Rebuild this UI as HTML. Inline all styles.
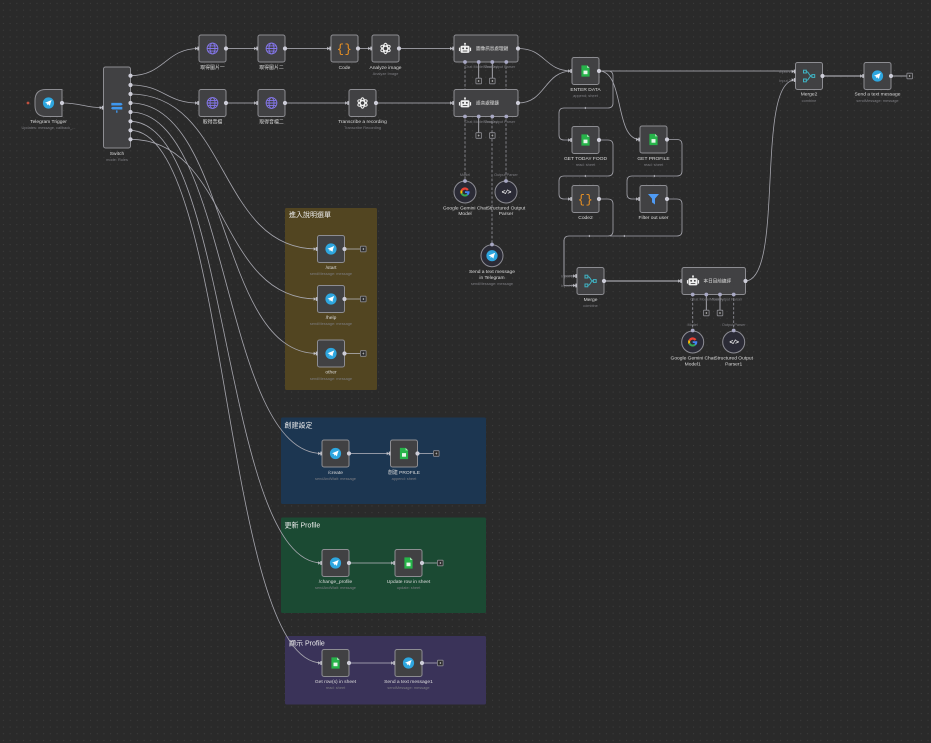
<!DOCTYPE html>
<html><head><meta charset="utf-8"><style>
html,body{margin:0;padding:0;background:#2a2a2a;width:931px;height:743px;overflow:hidden}
svg{display:block;filter:blur(.3px)}
text{font-family:"Liberation Sans","Noto Sans CJK TC",sans-serif}
.n{font-size:4.9px;fill:#dcdcdc;text-anchor:middle}
.s{font-size:3.9px;fill:#7d7d82;text-anchor:middle}
.t{font-size:7px;fill:#ececec}
.a{font-size:4.6px;fill:#e0e0e0}
.p{font-size:3.8px;fill:#7d7d82;text-anchor:middle}
.box{fill:#414143;stroke:#8d8d92;stroke-width:1}
.l{fill:none;stroke:#b8b8c0;stroke-width:.85}
.h{fill:none;stroke:#a4a4ab;stroke-width:1.3}
.d{fill:none;stroke:#96969e;stroke-width:.8;stroke-dasharray:2.6 1.8}
.c{fill:none;stroke:#a6a6ae;stroke-width:.8}
</style></head><body>
<svg width="931" height="743" viewBox="0 0 931 743" xmlns="http://www.w3.org/2000/svg">
<defs>
<pattern id="dots" width="6.7" height="6.7" patternUnits="userSpaceOnUse"><rect width="6.7" height="6.7" fill="#2a2a2a"/><rect x="3" y="3" width=".9" height=".9" fill="#434343"/></pattern>
<g id="tg"><circle r="5.6" fill="#2ea6df"/><path d="M-3.4-.2 3.2-3 2.1-.1 1.4 2.9-.3 1.2-1.3 2.4-1.4.6z" fill="#fff"/></g>
<g id="globe" fill="none" stroke="#8476ea" stroke-width=".9"><circle r="5.4"/><ellipse rx="2.5" ry="5.4"/><path d="M-5.4 0H5.4M-4.6-2.6H4.6M-4.6 2.6H4.6"/></g>
<g id="sheet"><path d="M-4.1-5.6H1.6L4.1-3.1V5.6H-4.1z" fill="#27b44a"/><path d="M1.6-5.6 4.1-3.1H1.6z" fill="#a8e6b8"/><rect x="-2" y="-.4" width="4" height="3.6" fill="#e6f6ea"/></g>
<g id="code"><text x="0" y="3.9" text-anchor="middle" font-size="12" fill="#ee9322" style="font-family:'Liberation Mono',monospace" letter-spacing=".6">{}</text></g>
<g id="oai" fill="none" stroke="#f0f0f0" stroke-width="1.05"><ellipse rx="2.2" ry="5.2"/><ellipse rx="2.2" ry="5.2" transform="rotate(60)"/><ellipse rx="2.2" ry="5.2" transform="rotate(120)"/></g>
<g id="bot" transform="scale(1.15)"><rect x="-3.9" y="-2.8" width="7.8" height="6.2" rx="1.2" fill="#f0f0f0"/><rect x="-.4" y="-4.6" width=".8" height="1.8" fill="#f0f0f0"/><circle cy="-4.6" r=".8" fill="#f0f0f0"/><rect x="-5.3" y="-1.2" width="1" height="3" fill="#f0f0f0"/><rect x="4.3" y="-1.2" width="1" height="3" fill="#f0f0f0"/><circle cx="-1.6" cy="-.6" r=".8" fill="#414143"/><circle cx="1.6" cy="-.6" r=".8" fill="#414143"/><rect x="-2" y="1.4" width="4" height=".7" fill="#414143"/></g>
<g id="merge" fill="none" stroke="#3fb3c4" stroke-width="1"><rect x="-5.5" y="-5.8" width="2.8" height="2.8"/><rect x="-5.5" y="3" width="2.8" height="2.8"/><rect x="2.9" y="-1.4" width="2.8" height="2.8"/><path d="M-2.7-4.4C.5-4.4-.8 0 2.9 0M-2.7 4.4C.5 4.4-.8 0 2.9 0"/></g>
<g id="filter"><path d="M-5.5-5H5.5L1.5-.4V5.5L-1.5 3.4V-.4z" fill="#4f9bf5"/></g>
<g id="switch" fill="#3f97ee" transform="scale(1.1)"><path d="M-5-4.2H4L5.4-3 4-1.8H-5z"/><path d="M5-.6H-4L-5.4.6-4 1.8H5z"/><rect x="-.6" y="2.6" width="1.2" height="2.2"/></g>
<g id="g"><path d="M3.7-2.7A4.6 4.6 0 0 0-4.1-2.1L-2.5-.8A2.6 2.6 0 0 1 2-1.2z" fill="#ea4335"/><path d="M-4.1-2.1A4.6 4.6 0 0 0-4.1 2.1L-2.5.8A2.6 2.6 0 0 1-2.5-.8z" fill="#fbbc05"/><path d="M-4.1 2.1A4.6 4.6 0 0 0 3 3.4L1.5 2A2.6 2.6 0 0 1-2.5.8z" fill="#34a853"/><path d="M3 3.4A4.6 4.6 0 0 0 4.5-.8H0V1H2.4A2.6 2.6 0 0 1 1.5 2z" fill="#4285f4"/></g>
<g id="parser"><text x="0" y="1.8" text-anchor="middle" font-size="6.5" fill="#f2f2f2" font-weight="bold" style="font-family:'Liberation Mono',monospace" letter-spacing="-1">&lt;/&gt;</text></g>
<g id="in"><rect x="-1.7" y="-1.9" width="1.6" height="3.8" fill="#c2c2ca"/><path d="M-3.8-1.7-1.5 0-3.8 1.7z" fill="#c2c2ca"/></g>
<circle id="o" r="2.1" fill="#cdcdd8"/>
<circle id="sp" r="1.9" fill="#a8a8c4"/>
<g id="plus"><rect x="-2.8" y="-2.8" width="5.6" height="5.6" rx=".6" fill="#2d2d2d" stroke="#8c8c92" stroke-width=".8"/><path d="M-1 0H1M0-1V1" stroke="#c8c8c8" stroke-width=".6"/></g>
</defs>
<rect width="931" height="743" fill="url(#dots)"/>

<!-- stickies -->
<rect x="285" y="208" width="92" height="182" rx="1.5" fill="#524521"/>
<rect x="281" y="417.500" width="205" height="86.500" rx="1.5" fill="#1c3651"/>
<rect x="281" y="517.500" width="205" height="95.500" rx="1.5" fill="#1b4a33"/>
<rect x="285" y="636" width="201" height="68.500" rx="1.5" fill="#3a3359"/>
<text class="t" x="289" y="217">進入說明選單</text>
<text class="t" x="284.500" y="427.500">創建設定</text>
<text class="t" x="284.500" y="527.500">更新 Profile</text>
<text class="t" x="289" y="645.500">顯示 Profile</text>

<!-- main connectors -->
<path class="c" d="M62 103C82 103 84 107.700 103 107.700"/>
<path class="c" d="M130 75.700C165 75.700 165 48.500 199 48.500"/>
<path class="c" d="M130 85C165 85 165 103 199 103"/>
<path class="c" d="M130 94C230 94 217 249 317 249"/>
<path class="c" d="M130 139.300C230 139.300 217 299 317 299"/>
<path class="c" d="M130 103C230 103 217 353.500 317 353.500"/>
<path class="c" d="M130 112C230 112 222 453.500 322 453.500"/>
<path class="c" d="M130 121.300C230 121.300 222 563 322 563"/>
<path class="c" d="M130 130.300C230 130.300 222 663 322 663"/>

<path class="l" d="M226 48.500H258M285 48.500H331M358 48.500H372M399 48.500H454"/>
<path class="l" d="M226 103H258M285 103H349M376 103H454"/>
<path class="c" d="M518 48.500C546 48.500 544 71 572 71M518 103C546 103 544 71 572 71"/>
<path class="l" d="M599 71H795"/>
<path class="c" d="M599 71C625 71 614 139.500 640 139.500"/>
<path class="c" d="M599 71H608Q613 71 613 76V103Q613 108 608 108H564Q559 108 559 113V135Q559 140 564 140H572"/>
<path class="c" d="M599 140H608Q613 140 613 145V171Q613 176 608 176H564Q559 176 559 181V194Q559 199 564 199H572"/>
<path class="c" d="M599 199H608Q613 199 613 204V231Q613 236 608 236H569Q564 236 564 241V276H577"/>
<path class="c" d="M564 285.500V240"/><path class="c" d="M564 285.500H577"/>
<path class="c" d="M667 199H677Q682 199 682 204V231Q682 236 677 236H610"/>
<path class="c" d="M667 139.500H677Q682 139.500 682 144.500V171Q682 176 677 176H632Q627 176 627 181V194Q627 199 632 199H640"/>
<path class="c" d="M745 281C785 281 755 80 795 80"/>
<path class="h" d="M604 281H682M822 76H864"/>
<path class="l" d="M891 76H907"/>
<path class="l" d="M344 249H360M344 299H360M344 353.500H360"/>
<path class="l" d="M349 453.500H390M417 453.500H433"/>
<path class="l" d="M349 563H395M422 563H437"/>
<path class="l" d="M349 663H395M422 663H437"/>

<!-- dashed -->
<path class="d" d="M465 62V181M506 62V181M492 117V244M692.700 294V330.500M733.700 294V330.500"/>
<path class="l" d="M478.700 62V78M492.300 62V78M478.700 117V133M706.300 294V310M720 294V310"/>

<!-- mid arrows -->
<g fill="#b4b4bc"><path d="M586 106.800 584 108 586 109.200zM586 174.800 584 176 586 177.200zM655 174.800 653 176 655 177.200zM590 234.800 588 236 590 237.200zM625 234.800 623 236 625 237.200z"/></g>

<!-- nodes -->
<path class="box" d="M46 89.500H62V116.500H46Q35 116.500 35 105.500V100.500Q35 89.500 46 89.500Z"/>
<rect class="box" x="103.500" y="67" width="27" height="81" rx="2"/>
<rect class="box" x="199" y="35" width="27" height="27" rx="2"/>
<rect class="box" x="258" y="35" width="27" height="27" rx="2"/>
<rect class="box" x="199" y="89.500" width="27" height="27" rx="2"/>
<rect class="box" x="258" y="89.500" width="27" height="27" rx="2"/>
<rect class="box" x="331" y="35" width="27" height="27" rx="2"/>
<rect class="box" x="372" y="35" width="27" height="27" rx="2"/>
<rect class="box" x="349" y="89.500" width="27" height="27" rx="2"/>
<rect class="box" x="454" y="35" width="64" height="27" rx="2"/>
<rect class="box" x="454" y="89.500" width="64" height="27" rx="2"/>
<rect class="box" x="572" y="57.500" width="27" height="27" rx="2"/>
<rect class="box" x="572" y="126.500" width="27" height="27" rx="2"/>
<rect class="box" x="572" y="185.500" width="27" height="27" rx="2"/>
<rect class="box" x="640" y="126" width="27" height="27" rx="2"/>
<rect class="box" x="640" y="185.500" width="27" height="27" rx="2"/>
<rect class="box" x="795.500" y="62.500" width="27" height="27" rx="2"/>
<rect class="box" x="864" y="62.500" width="27" height="27" rx="2"/>
<rect class="box" x="577" y="267.500" width="27" height="27" rx="2"/>
<rect class="box" x="682" y="267.500" width="63.500" height="27" rx="2"/>
<rect class="box" x="317.500" y="235.500" width="27" height="27" rx="2"/>
<rect class="box" x="317.500" y="285.500" width="27" height="27" rx="2"/>
<rect class="box" x="317.500" y="340" width="27" height="27" rx="2"/>
<rect class="box" x="322" y="440" width="27" height="27" rx="2"/>
<rect class="box" x="390.500" y="440" width="27" height="27" rx="2"/>
<rect class="box" x="322" y="549.500" width="27" height="27" rx="2"/>
<rect class="box" x="395" y="549.500" width="27" height="27" rx="2"/>
<rect class="box" x="322" y="649.500" width="27" height="27" rx="2"/>
<rect class="box" x="395" y="649.500" width="27" height="27" rx="2"/>

<!-- round sub nodes -->
<g fill="#2b2b36" stroke="#8d8d94" stroke-width="1">
<circle cx="465" cy="192" r="11"/><circle cx="506" cy="192" r="11"/><circle cx="492" cy="255.700" r="11"/><circle cx="692.700" cy="342" r="11"/><circle cx="733.700" cy="342" r="11"/>
</g>

<!-- icons -->
<use href="#tg" x="48.500" y="103"/>
<use href="#switch" x="116.800" y="107.500"/>
<use href="#globe" x="212.500" y="48.500"/><use href="#globe" x="271.500" y="48.500"/>
<use href="#globe" x="212.500" y="103"/><use href="#globe" x="271.500" y="103"/>
<use href="#code" x="344.500" y="48.500"/>
<use href="#oai" x="385.500" y="48.500"/><use href="#oai" x="362.500" y="103"/>
<use href="#bot" x="465" y="49"/><use href="#bot" x="465" y="103.500"/><use href="#bot" x="693" y="281.500"/>
<use href="#sheet" x="585.500" y="71"/><use href="#sheet" x="585.500" y="140"/>
<use href="#code" x="585.500" y="199"/>
<use href="#sheet" x="653.500" y="139.500"/>
<use href="#filter" x="653.500" y="199"/>
<use href="#merge" x="809" y="76"/><use href="#tg" x="877.500" y="76"/>
<use href="#merge" x="590.500" y="281"/>
<use href="#g" x="465" y="192"/><use href="#parser" x="506" y="192"/>
<use href="#tg" x="492" y="255.700"/>
<use href="#g" x="692.700" y="342"/><use href="#parser" x="733.700" y="342"/>
<use href="#tg" x="331" y="249"/><use href="#tg" x="331" y="299"/><use href="#tg" x="331" y="353.500"/>
<use href="#tg" x="335.500" y="453.500"/><use href="#sheet" x="404" y="453.500"/>
<use href="#tg" x="335.500" y="563"/><use href="#sheet" x="408.500" y="563"/>
<use href="#sheet" x="335.500" y="663"/><use href="#tg" x="408.500" y="663"/>

<!-- output dots -->
<use href="#o" x="62" y="103"/>
<use href="#o" x="130.500" y="75.700"/><use href="#o" x="130.500" y="85"/><use href="#o" x="130.500" y="94"/><use href="#o" x="130.500" y="103"/><use href="#o" x="130.500" y="112"/><use href="#o" x="130.500" y="121.300"/><use href="#o" x="130.500" y="130.300"/><use href="#o" x="130.500" y="139.300"/>
<use href="#o" x="226" y="48.500"/><use href="#o" x="285" y="48.500"/><use href="#o" x="226" y="103"/><use href="#o" x="285" y="103"/>
<use href="#o" x="358" y="48.500"/><use href="#o" x="399" y="48.500"/><use href="#o" x="376" y="103"/>
<use href="#o" x="518" y="48.500"/><use href="#o" x="518" y="103"/>
<use href="#o" x="599" y="71"/><use href="#o" x="599" y="140"/><use href="#o" x="599" y="199"/>
<use href="#o" x="667" y="139.500"/><use href="#o" x="667" y="199"/>
<use href="#o" x="822.500" y="76"/><use href="#o" x="891" y="76"/>
<use href="#o" x="604" y="281"/><use href="#o" x="745.500" y="281"/>
<use href="#o" x="344.500" y="249"/><use href="#o" x="344.500" y="299"/><use href="#o" x="344.500" y="353.500"/>
<use href="#o" x="349" y="453.500"/><use href="#o" x="417.500" y="453.500"/>
<use href="#o" x="349" y="563"/><use href="#o" x="422" y="563"/>
<use href="#o" x="349" y="663"/><use href="#o" x="422" y="663"/>

<!-- input markers -->
<use href="#in" x="103.500" y="107.700"/>
<use href="#in" x="199" y="48.500"/><use href="#in" x="258" y="48.500"/><use href="#in" x="331" y="48.500"/><use href="#in" x="372" y="48.500"/><use href="#in" x="454" y="48.500"/>
<use href="#in" x="199" y="103"/><use href="#in" x="258" y="103"/><use href="#in" x="349" y="103"/><use href="#in" x="454" y="103"/>
<use href="#in" x="572" y="71"/><use href="#in" x="572" y="140"/><use href="#in" x="572" y="199"/>
<use href="#in" x="640" y="139.500"/><use href="#in" x="640" y="199"/>
<use href="#in" x="795.500" y="71.500"/><use href="#in" x="795.500" y="80"/><use href="#in" x="864" y="76"/>
<use href="#in" x="577" y="276"/><use href="#in" x="577" y="285.500"/><use href="#in" x="682" y="281"/>
<use href="#in" x="317.500" y="249"/><use href="#in" x="317.500" y="299"/><use href="#in" x="317.500" y="353.500"/>
<use href="#in" x="322" y="453.500"/><use href="#in" x="390.500" y="453.500"/>
<use href="#in" x="322" y="563"/><use href="#in" x="395" y="563"/>
<use href="#in" x="322" y="663"/><use href="#in" x="395" y="663"/>

<!-- sub ports -->
<use href="#sp" x="465" y="62"/><use href="#sp" x="478.700" y="62"/><use href="#sp" x="492.300" y="62"/><use href="#sp" x="506.300" y="62"/>
<use href="#sp" x="465" y="116.500"/><use href="#sp" x="478.700" y="116.500"/><use href="#sp" x="492.300" y="116.500"/><use href="#sp" x="506.300" y="116.500"/>
<use href="#sp" x="692.700" y="294.500"/><use href="#sp" x="706.300" y="294.500"/><use href="#sp" x="720" y="294.500"/><use href="#sp" x="733.700" y="294.500"/>
<use href="#sp" x="465" y="181"/><use href="#sp" x="506" y="181"/><use href="#sp" x="492" y="244.500"/><use href="#sp" x="692.700" y="330.500"/><use href="#sp" x="733.700" y="330.500"/>

<!-- plus -->
<use href="#plus" x="478.700" y="81"/><use href="#plus" x="492.300" y="81"/>
<use href="#plus" x="478.700" y="135.500"/><use href="#plus" x="492.300" y="135.500"/>
<use href="#plus" x="706.300" y="313"/><use href="#plus" x="720" y="313"/>
<use href="#plus" x="909.700" y="76"/>
<use href="#plus" x="363.300" y="249"/><use href="#plus" x="363.300" y="299"/><use href="#plus" x="363.300" y="353.500"/>
<use href="#plus" x="436.300" y="453.500"/><use href="#plus" x="440.300" y="563"/><use href="#plus" x="440.300" y="663"/>

<!-- labels -->
<text class="n" x="48.500" y="122.800">Telegram Trigger</text><text class="s" x="48.500" y="129">Updates: message, callback_...</text>
<text class="n" x="117" y="155">Switch</text><text class="s" x="117" y="161">mode: Rules</text>
<text class="n" x="212.500" y="69">取得圖片一</text><text class="n" x="271.500" y="69">取得圖片二</text>
<text class="n" x="212.500" y="123.500">取得音檔</text><text class="n" x="271.500" y="123.500">取得音檔二</text>
<text class="n" x="344.500" y="69">Code</text>
<text class="n" x="385.500" y="69">Analyze image</text><text class="s" x="385.500" y="75">Analyze Image</text>
<text class="n" x="362.500" y="122.800">Transcribe a recording</text><text class="s" x="362.500" y="129">Transcribe Recording</text>
<text class="a" x="476" y="50.200">圖像訊息處理鏈</text>
<text class="a" x="476" y="104.700">語音處理鏈</text>
<text class="a" x="703.500" y="282.700">本日目前總評</text>
<text class="p" x="481" y="68">Chat ModelMemory</text><text class="p" x="500" y="68">ToolOutput Parser</text>
<text class="p" x="481" y="123">Chat ModelMemory</text><text class="p" x="500" y="123">ToolOutput Parser</text>
<text class="p" x="707" y="300.500">Chat ModelMemory</text><text class="p" x="727" y="300.500">ToolOutput Parser</text>
<text class="p" x="465" y="176">Model</text><text class="p" x="506" y="176">Output Parser</text>
<text class="p" x="692.700" y="326">Model</text><text class="p" x="733.700" y="326">Output Parser</text>
<text class="n" x="465" y="209.700">Google Gemini Chat</text><text class="n" x="465" y="215">Model</text>
<text class="n" x="506" y="209.700">Structured Output</text><text class="n" x="506" y="215">Parser</text>
<text class="n" x="492" y="273">Send a text message</text><text class="n" x="492" y="279">in Telegram</text><text class="s" x="492" y="285">sendMessage: message</text>
<text class="n" x="692.700" y="359.700">Google Gemini Chat</text><text class="n" x="692.700" y="365.500">Model1</text>
<text class="n" x="733.700" y="359.700">Structured Output</text><text class="n" x="733.700" y="365.500">Parser1</text>
<text class="n" x="585.500" y="91">ENTER DATA</text><text class="s" x="585.500" y="97.200">append: sheet</text>
<text class="n" x="585.500" y="160">GET TODAY FOOD</text><text class="s" x="585.500" y="166">read: sheet</text>
<text class="n" x="585.500" y="219">Code2</text>
<text class="n" x="653.500" y="160">GET PROFILE</text><text class="s" x="653.500" y="166">read: sheet</text>
<text class="n" x="653.500" y="219">Filter out user</text>
<text class="n" x="809" y="95.500">Merge2</text><text class="s" x="809" y="102">combine</text>
<text class="n" x="877.500" y="95.500">Send a text message</text><text class="s" x="877.500" y="102">sendMessage: message</text>
<text class="n" x="590.500" y="301">Merge</text><text class="s" x="590.500" y="307">combine</text>
<text class="p" x="785" y="72.800">Input 1</text><text class="p" x="785" y="82">Input 2</text>
<text class="p" x="567" y="277.300">Input 1</text><text class="p" x="567" y="287">Input 2</text>
<text class="n" x="331" y="269">/start</text><text class="s" x="331" y="275">sendMessage: message</text>
<text class="n" x="331" y="319">/help</text><text class="s" x="331" y="325">sendMessage: message</text>
<text class="n" x="331" y="373.700">other</text><text class="s" x="331" y="380">sendMessage: message</text>
<text class="n" x="335.500" y="474">/create</text><text class="s" x="335.500" y="480.200">sendAndWait: message</text>
<text class="n" x="404" y="474">創建 PROFILE</text><text class="s" x="404" y="480.200">append: sheet</text>
<text class="n" x="335.500" y="583">/change_profile</text><text class="s" x="335.500" y="589.200">sendAndWait: message</text>
<text class="n" x="408.500" y="583">Update row in sheet</text><text class="s" x="408.500" y="589.200">update: sheet</text>
<text class="n" x="335.500" y="683">Get row(s) in sheet</text><text class="s" x="335.500" y="689.200">read: sheet</text>
<text class="n" x="408.500" y="683">Send a text message1</text><text class="s" x="408.500" y="689.200">sendMessage: message</text>
<circle cx="28" cy="103" r="1.4" fill="#c0503f"/>
</svg>
</body></html>
